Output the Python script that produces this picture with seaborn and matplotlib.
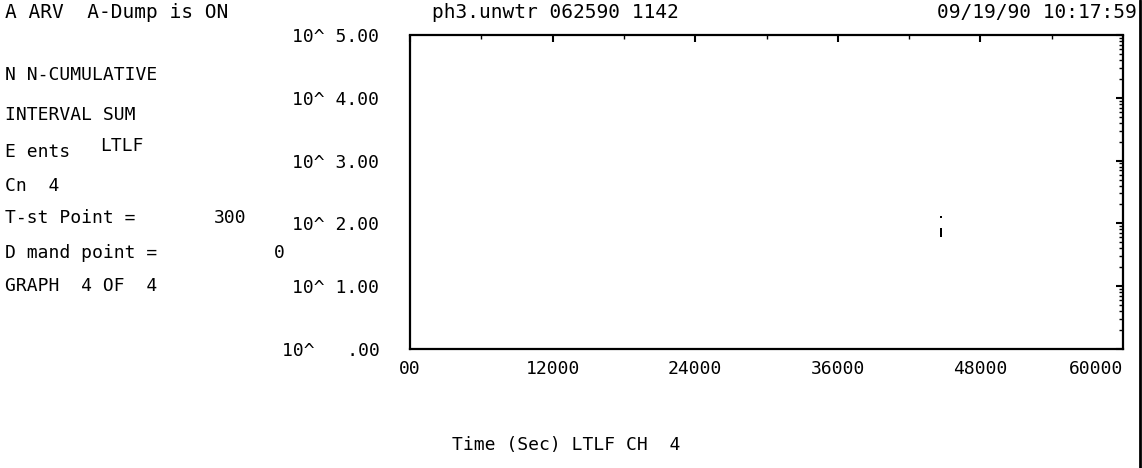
import numpy as np
import pandas as pd
import seaborn as sns
import matplotlib.pyplot as plt
from matplotlib.ticker import FixedLocator, LogLocator, NullFormatter

# data (only a few counts near t ~ 44700 s)
time_sec = [44700, 44700, 44700, 44700, 44700, 44700]
counts = [126, 81, 76, 71, 67, 63]

x_ticks = [0, 12000, 24000, 36000, 48000, 60000]
x_labels = ["00", "12000", "24000", "36000", "48000", "60000"]
y_ticks = [1, 10, 100, 1000, 10000, 100000]
y_labels = ["10^   .00", "10^ 1.00", "10^ 2.00", "10^ 3.00", "10^ 4.00", "10^ 5.00"]

header_left = "A ARV  A-Dump is ON"
header_mid = "ph3.unwtr 062590 1142"
header_right = "09/19/90 10:17:59"
x_title = "Time (Sec) LTLF CH  4"

# left info block: (text, x px, y px)
info_lines = [
    ("N N-CUMULATIVE", 5, 75),
    ("INTERVAL SUM", 5, 115),
    ("E ents", 5, 152),
    ("LTLF", 100, 146),
    ("Cn  4", 5, 186),
    ("T-st Point =", 5, 218),
    ("300", 214, 218),
    ("D mand point =", 5, 253),
    ("0", 274, 253),
    ("GRAPH  4 OF  4", 5, 286),
]

df = pd.DataFrame({"Time": time_sec, "Count": counts})

sns.set_style("white")
plt.rcParams['font.family'] = ['DejaVu Sans Mono']

W, H = 1142, 468
fig = plt.figure(figsize=(W / 100, H / 100), dpi=100)
ax = fig.add_axes([410 / W, 1 - 349 / H, (1123 - 410) / W, (349 - 35) / H])

sns.scatterplot(data=df, x="Time", y="Count", ax=ax, color="black",
                marker="s", s=3, linewidth=0, legend=False)

ax.set_yscale("log")
ax.set_xlim(0, 60000)
ax.set_ylim(1, 100000)
ax.xaxis.set_major_locator(FixedLocator(x_ticks))
ax.set_xticklabels(x_labels)
ax.xaxis.set_minor_locator(FixedLocator(np.arange(6000, 60000, 12000)))
ax.yaxis.set_major_locator(FixedLocator(y_ticks))
ax.set_yticklabels(y_labels)
ax.yaxis.set_minor_locator(LogLocator(base=10, subs=np.arange(2, 10)))
ax.yaxis.set_minor_formatter(NullFormatter())
ax.set_xlabel("")
ax.set_ylabel("")

ax.tick_params(axis="both", which="major", direction="in", length=5, width=1.5,
               color="black", labelcolor="black", labelsize=13, top=True, right=True)
ax.tick_params(axis="both", which="minor", direction="in", length=3, width=1,
               color="black", top=True, right=True)
ax.tick_params(axis="y", which="major", pad=22)
ax.tick_params(axis="x", which="major", pad=8)
# last x label sits left of the corner, as on the printout
ax.get_xticklabels()[-1].set_horizontalalignment("right")

for sp in ax.spines.values():
    sp.set_visible(True)
    sp.set_color("black")
    sp.set_linewidth(1.6)
    sp.set_linestyle((0, (1, 1)))

txt = dict(fontsize=13, color="black", va="center", ha="left")
hdr = dict(fontsize=14, color="black", va="center")
fig.text(5 / W, 1 - 12 / H, header_left, ha="left", **hdr)
fig.text(432 / W, 1 - 12 / H, header_mid, ha="left", **hdr)
fig.text(1137 / W, 1 - 12 / H, header_right, ha="right", **hdr)
for label, px, py in info_lines:
    fig.text(px / W, 1 - py / H, label, **txt)
fig.text(452 / W, 1 - 445 / H, x_title, **txt)

# right edge of the scanned sheet
fig.add_artist(plt.Line2D([1139.5 / W, 1139.5 / W], [0, 1], color="black", lw=2))

fig.savefig("out.png", dpi=100)
